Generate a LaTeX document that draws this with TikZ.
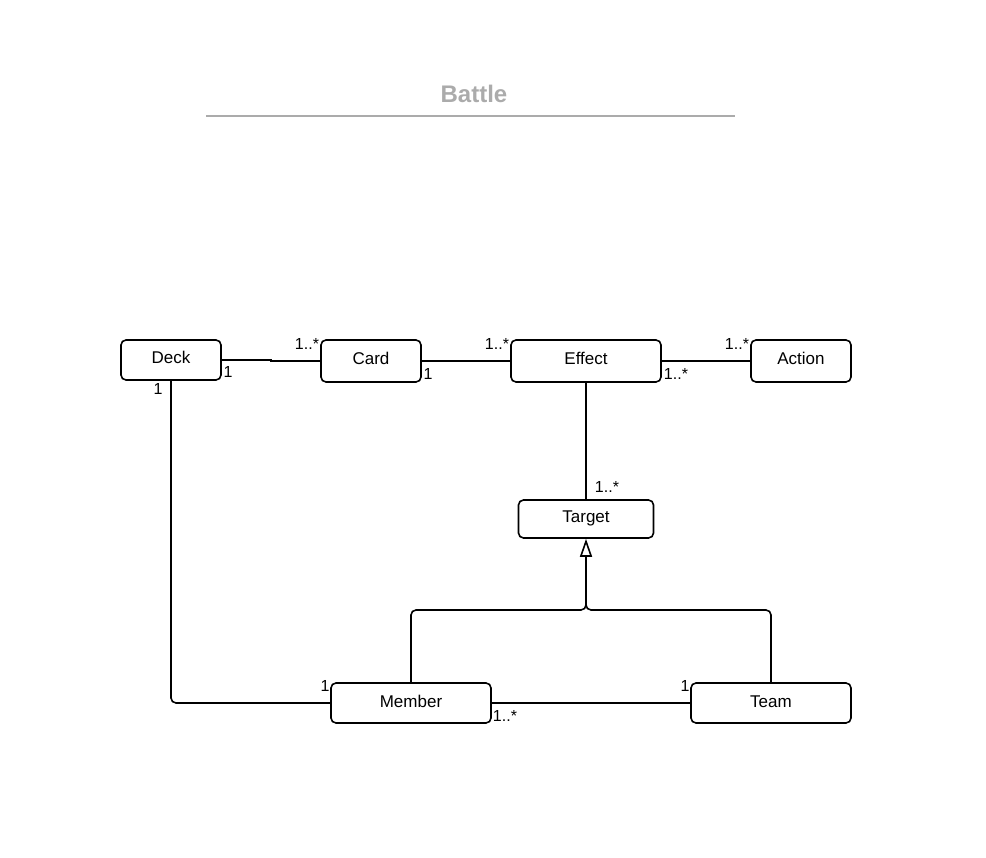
\documentclass[tikz,border=0pt]{standalone}
\usepackage{fontspec}
\setmainfont{Liberation Sans}
\usetikzlibrary{arrows.meta}
\begin{document}
\begin{tikzpicture}[x=1pt,y=-1pt,
  cls/.style={draw, line width=1.6pt, rounded corners=5pt, inner sep=0pt, text height=12pt, text depth=4pt, font=\fontsize{17}{20}\selectfont},
  link/.style={line width=1.6pt},
  mult/.style={font=\fontsize{16}{18}\selectfont, inner sep=0pt},
  gen/.style={line width=1.6pt, -{Triangle[open, length=18pt, width=12pt, line width=1.6pt]}}
]
\useasboundingbox (0,0) rectangle (986,858);
\node[font=\bfseries\fontsize{24}{28}\selectfont, text=black!33] (title) at (474,94) {Battle};
\draw[line width=1.6pt, black!33] (206,116) coordinate (tl) -- (735,116) coordinate (tr);

\node[cls, minimum width=100pt, minimum height=40pt] (deck) at (171,360) {Deck};
\node[cls, minimum width=100pt, minimum height=42pt] (card) at (371,361) {Card};
\node[cls, minimum width=150pt, minimum height=42pt] (effect) at (586,361) {Effect};
\node[cls, minimum width=100pt, minimum height=42pt] (action) at (801,361) {Action};
\node[cls, minimum width=135pt, minimum height=38pt] (target) at (586,519) {Target};
\node[cls, minimum width=160pt, minimum height=40pt] (member) at (411,703) {Member};
\node[cls, minimum width=160pt, minimum height=40pt] (team) at (771,703) {Team};

\draw[link] (deck.east) -- (271,360) -- (271,361) -- (card.west);
\draw[link] (card.east) -- (effect.west);
\draw[link] (effect.east) -- (action.west);
\draw[link] (effect.south) -- (target.north);
\draw[link, rounded corners=5pt] (deck.south) |- (member.west);
\draw[link] (member.east) -- (team.west);
\coordinate (j) at (586,604);
\draw[link, rounded corners=5pt] (member.north) |- (586,610) -- (j);
\draw[link, rounded corners=5pt] (team.north) |- (586,610) -- (j);
\draw[gen] (j) -- (target.south);

\node[mult] (m1) at (228,372) {1};
\node[mult] (m2) at (307,344) {1..*};
\node[mult] (m3) at (428,374) {1};
\node[mult] (m4) at (497,344) {1..*};
\node[mult] (m5) at (676,374) {1..*};
\node[mult] (m6) at (737,344) {1..*};
\node[mult] (m7) at (607,487) {1..*};
\node[mult] (m8) at (158,389) {1};
\node[mult] (m9) at (325,686) {1};
\node[mult] (m10) at (505,716) {1..*};
\node[mult] (m11) at (685,686) {1};
\end{tikzpicture}
\end{document}
